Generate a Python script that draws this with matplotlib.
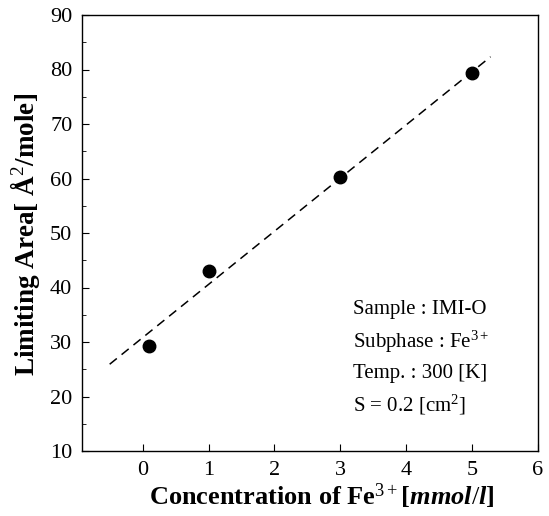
import matplotlib
matplotlib.use("Agg")
import matplotlib.pyplot as plt
import numpy as np
from matplotlib.ticker import MultipleLocator

conc = [0.1, 1.0, 3.0, 5.0]
area = [29.2, 43.1, 60.3, 79.3]
fit_x = [-0.5, 5.28]
fit_slope = 9.76
fit_intercept = 30.8
xticks = [0, 1, 2, 3, 4, 5, 6]
yticks = [10, 20, 30, 40, 50, 60, 70, 80, 90]

plt.rcParams['font.family'] = ['Liberation Serif', 'DejaVu Serif']
plt.rcParams['mathtext.fontset'] = 'custom'
plt.rcParams['mathtext.rm'] = 'Liberation Serif'
plt.rcParams['mathtext.it'] = 'Liberation Serif:italic:bold'
plt.rcParams['mathtext.bf'] = 'Liberation Serif:bold'

fig = plt.figure(figsize=(5.49, 5.16), dpi=100)
ax = fig.add_axes([82/549, 1-451/516, (538-82)/549, (451-15)/516])

fx = np.array(fit_x)
ax.plot(fx, fit_slope*fx + fit_intercept, color='black', lw=1.1, dashes=(6, 4))
ax.plot(conc, area, 'o', color='black', ms=9)

ax.set_xlim(-0.92, 6)
ax.set_ylim(10, 90)
ax.set_xticks(xticks)
ax.set_yticks(yticks)
ax.yaxis.set_minor_locator(MultipleLocator(5))
ax.tick_params(direction='in', which='both', labelsize=16, length=5)
ax.tick_params(axis='y', pad=7)
ax.tick_params(axis='x', pad=7)
ax.tick_params(which='minor', length=3)
for s in ax.spines.values():
    s.set_linewidth(1.0)

ax.set_xlabel(r'Concentration of Fe$^{3+}$[$mmol/l$]', fontsize=19, fontweight='bold')
ax.xaxis.set_label_coords((322-82)/456, -(496-451)/436)
ax.xaxis.label.set_va('center')
ax.set_ylabel('Limiting Area[ Å$^2$/mole]', fontsize=19.5, fontweight='bold')
ax.yaxis.set_label_coords(-(82-25)/456, (451-234)/436)
ax.yaxis.label.set_va('center')

lines = ['Sample : IMI-O', 'Subphase : Fe$^{3+}$', 'Temp. : 300 [K]', 'S = 0.2 [cm$^2$]']
ys = [36.0, 30.1, 24.3, 18.5]
for t, yv in zip(lines, ys):
    ax.text(3.2, yv, t, fontsize=15, va='center', ha='left')

fig.savefig('out.png', dpi=100)
